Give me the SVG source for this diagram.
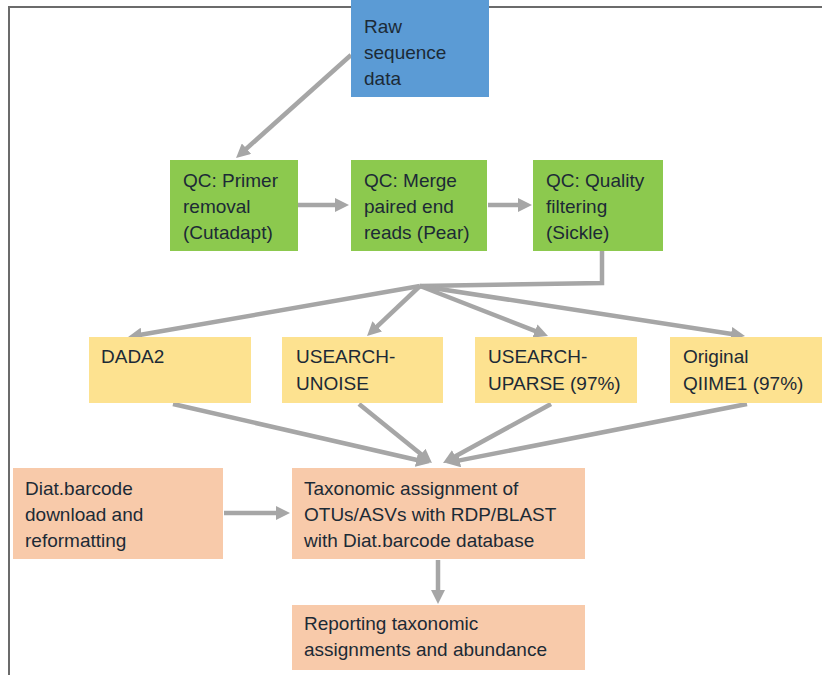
<svg xmlns="http://www.w3.org/2000/svg" width="822" height="675" viewBox="0 0 822 675">
<style>
.t{font-family:"Liberation Sans",Arial,sans-serif;font-size:19px;fill:#1c2a36}
.c{stroke:#a6a6a6;stroke-width:4.5;fill:none;marker-end:url(#ah)}
.blue{fill:#5b9bd5}
.green{fill:#8cc94e}
.yellow{fill:#fde290}
.peach{fill:#f8caaa}
</style>
<defs>
<marker id="ah" markerUnits="userSpaceOnUse" markerWidth="14" markerHeight="14" refX="4" refY="7" orient="auto">
<path d="M0,0 L14,7 L0,14 z" fill="#a6a6a6"/>
</marker>
</defs>
<rect width="822" height="675" fill="#ffffff"/>
<path d="M9,675 V7 H822" fill="none" stroke="#6b6b6b" stroke-width="2"/>

<g id="connectors">
<path class="c" d="M351,55 L243.5,151.3"/>
<path class="c" d="M297,205 H339"/>
<path class="c" d="M488,205 H522"/>
<path d="M602,251 V283 L420,286" stroke="#a6a6a6" stroke-width="4.5" fill="none"/>
<path class="c" d="M420,286 L137.9,335.3"/>
<path class="c" d="M420,286 L374.3,329.1"/>
<path class="c" d="M420,286 L538.7,332.4"/>
<path class="c" d="M420,286 L735.1,334.5"/>
<path class="c" d="M173,404 L420.3,460.8"/>
<path class="c" d="M359,404 L424.2,456.7"/>
<path class="c" d="M551,404 L451.8,458.2"/>
<path class="c" d="M747,404 L455.8,461.1"/>
<path class="c" d="M224,513 H280"/>
<path class="c" d="M438,560 V594"/>
</g>

<g id="raw">
<rect class="blue" x="351" y="0" width="138" height="97"/>
<text class="t" x="364" y="33">Raw</text>
<text class="t" x="364" y="59">sequence</text>
<text class="t" x="364" y="85">data</text>
</g>

<g id="qc-primer">
<rect class="green" x="170" y="160" width="128" height="91"/>
<text class="t" x="183" y="187">QC: Primer</text>
<text class="t" x="183" y="213">removal</text>
<text class="t" x="183" y="239">(Cutadapt)</text>
</g>

<g id="qc-merge">
<rect class="green" x="351" y="160" width="136" height="91"/>
<text class="t" x="364" y="187">QC: Merge</text>
<text class="t" x="364" y="213">paired end</text>
<text class="t" x="364" y="239">reads (Pear)</text>
</g>

<g id="qc-quality">
<rect class="green" x="533" y="160" width="130" height="91"/>
<text class="t" x="546" y="187">QC: Quality</text>
<text class="t" x="546" y="213">filtering</text>
<text class="t" x="546" y="239">(Sickle)</text>
</g>

<g id="dada2">
<rect class="yellow" x="89" y="337" width="162" height="66"/>
<text class="t" x="101" y="363">DADA2</text>
</g>

<g id="unoise">
<rect class="yellow" x="282" y="337" width="161" height="66"/>
<text class="t" x="296" y="363">USEARCH-</text>
<text class="t" x="296" y="390">UNOISE</text>
</g>

<g id="uparse">
<rect class="yellow" x="475" y="337" width="162" height="66"/>
<text class="t" x="488" y="363">USEARCH-</text>
<text class="t" x="488" y="390">UPARSE (97%)</text>
</g>

<g id="qiime">
<rect class="yellow" x="670" y="337" width="152" height="66"/>
<text class="t" x="683" y="363">Original</text>
<text class="t" x="683" y="390">QIIME1 (97%)</text>
</g>

<g id="diat">
<rect class="peach" x="13" y="468" width="210" height="91"/>
<text class="t" x="25" y="495">Diat.barcode</text>
<text class="t" x="25" y="521">download and</text>
<text class="t" x="25" y="547">reformatting</text>
</g>

<g id="taxonomic">
<rect class="peach" x="292" y="468" width="293" height="91"/>
<text class="t" x="304" y="495">Taxonomic assignment of</text>
<text class="t" x="304" y="521">OTUs/ASVs with RDP/BLAST</text>
<text class="t" x="304" y="547">with Diat.barcode database</text>
</g>

<g id="reporting">
<rect class="peach" x="292" y="605" width="293" height="65"/>
<text class="t" x="304" y="630">Reporting taxonomic</text>
<text class="t" x="304" y="656">assignments and abundance</text>
</g>
</svg>
